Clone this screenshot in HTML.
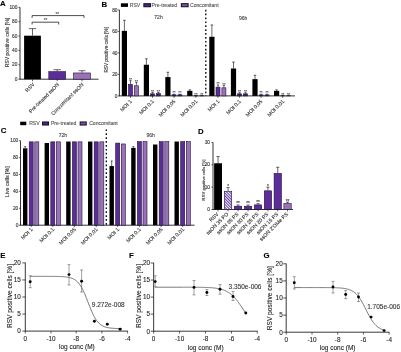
<!DOCTYPE html>
<html><head><meta charset="utf-8"><style>
html,body{margin:0;padding:0;background:#fff;width:401px;height:352px;overflow:hidden}
svg{display:block;font-family:"Liberation Sans", sans-serif;will-change:transform}
text{paint-order:stroke}
</style></head><body>
<svg width="401" height="352" viewBox="0 0 401 352">
<rect width="401" height="352" fill="#fff"/>
<text x="0.00" y="6.40" font-size="7.8" text-anchor="start" font-weight="bold" fill="#000" stroke="#000" stroke-width="0.1">A</text>
<line x1="20.00" y1="7.30" x2="20.00" y2="79.60" stroke="#000" stroke-width="0.8" />
<line x1="20.00" y1="79.20" x2="98.50" y2="79.20" stroke="#000" stroke-width="0.8" />
<line x1="18.40" y1="79.20" x2="20.00" y2="79.20" stroke="#000" stroke-width="0.6" />
<text x="17.40" y="80.80" font-size="4.8" text-anchor="end" font-weight="normal" fill="#333" stroke="#333" stroke-width="0.12">0</text>
<line x1="18.40" y1="64.82" x2="20.00" y2="64.82" stroke="#000" stroke-width="0.6" />
<text x="17.40" y="66.42" font-size="4.8" text-anchor="end" font-weight="normal" fill="#333" stroke="#333" stroke-width="0.12">20</text>
<line x1="18.40" y1="50.44" x2="20.00" y2="50.44" stroke="#000" stroke-width="0.6" />
<text x="17.40" y="52.04" font-size="4.8" text-anchor="end" font-weight="normal" fill="#333" stroke="#333" stroke-width="0.12">40</text>
<line x1="18.40" y1="36.06" x2="20.00" y2="36.06" stroke="#000" stroke-width="0.6" />
<text x="17.40" y="37.66" font-size="4.8" text-anchor="end" font-weight="normal" fill="#333" stroke="#333" stroke-width="0.12">60</text>
<line x1="18.40" y1="21.68" x2="20.00" y2="21.68" stroke="#000" stroke-width="0.6" />
<text x="17.40" y="23.28" font-size="4.8" text-anchor="end" font-weight="normal" fill="#333" stroke="#333" stroke-width="0.12">80</text>
<line x1="18.40" y1="7.30" x2="20.00" y2="7.30" stroke="#000" stroke-width="0.6" />
<text x="17.40" y="8.90" font-size="4.8" text-anchor="end" font-weight="normal" fill="#333" stroke="#333" stroke-width="0.12">100</text>
<text x="8.60" y="42.60" font-size="5.1" text-anchor="middle" font-weight="normal" fill="#333" stroke="#333" stroke-width="0.12" transform="rotate(-90 8.60 42.60)">RSV positive cells [%]</text>
<line x1="32.50" y1="35.70" x2="32.50" y2="28.65" stroke="#000" stroke-width="0.6" />
<line x1="28.80" y1="28.65" x2="36.20" y2="28.65" stroke="#000" stroke-width="0.6" />
<rect x="24.10" y="35.70" width="16.80" height="43.50" fill="#000"/>
<line x1="32.50" y1="79.20" x2="32.50" y2="81.20" stroke="#000" stroke-width="0.6" />
<line x1="57.20" y1="79.20" x2="57.20" y2="81.20" stroke="#000" stroke-width="0.6" />
<line x1="82.00" y1="79.20" x2="82.00" y2="81.20" stroke="#000" stroke-width="0.6" />
<line x1="57.20" y1="71.36" x2="57.20" y2="69.71" stroke="#000" stroke-width="0.6" />
<line x1="53.40" y1="69.71" x2="61.00" y2="69.71" stroke="#000" stroke-width="0.6" />
<rect x="48.80" y="71.66" width="16.80" height="7.54" fill="#5c2d9a" stroke="#1e1035" stroke-width="0.6"/>
<line x1="82.00" y1="72.66" x2="82.00" y2="70.72" stroke="#000" stroke-width="0.6" />
<line x1="78.50" y1="70.72" x2="85.50" y2="70.72" stroke="#000" stroke-width="0.6" />
<rect x="73.60" y="72.96" width="16.80" height="6.24" fill="#9b72b9" stroke="#1e1035" stroke-width="0.6"/>
<text x="34.90" y="84.90" font-size="5.2" text-anchor="end" font-weight="normal" fill="#333" stroke="#333" stroke-width="0.12" transform="rotate(-45 34.90 84.90)">RSV</text>
<text x="59.50" y="84.90" font-size="5.2" text-anchor="end" font-weight="normal" fill="#333" stroke="#333" stroke-width="0.12" transform="rotate(-45 59.50 84.90)">Pre-treated ssON</text>
<text x="84.00" y="84.90" font-size="5.2" text-anchor="end" font-weight="normal" fill="#333" stroke="#333" stroke-width="0.12" transform="rotate(-45 84.00 84.90)">Concomitant ssON</text>
<path d="M32.1,17.9 V15.6 H84.0 V17.9" fill="none" stroke="#000" stroke-width="0.7"/>
<path d="M32.1,24.5 V22.2 H58.7 V24.5" fill="none" stroke="#000" stroke-width="0.7"/>
<text x="57.30" y="15.50" font-size="4.6" text-anchor="middle" font-weight="normal" fill="#555" stroke="#555" stroke-width="0.12">**</text>
<text x="45.60" y="22.30" font-size="4.6" text-anchor="middle" font-weight="normal" fill="#555" stroke="#555" stroke-width="0.12">**</text>
<text x="101.60" y="6.60" font-size="7.8" text-anchor="start" font-weight="bold" fill="#000" stroke="#000" stroke-width="0.1">B</text>
<line x1="119.40" y1="9.90" x2="119.40" y2="96.30" stroke="#000" stroke-width="0.8" />
<line x1="119.40" y1="95.90" x2="295.00" y2="95.90" stroke="#000" stroke-width="0.8" />
<line x1="117.80" y1="95.90" x2="119.40" y2="95.90" stroke="#000" stroke-width="0.6" />
<text x="117.50" y="97.50" font-size="4.8" text-anchor="end" font-weight="normal" fill="#333" stroke="#333" stroke-width="0.12">0</text>
<line x1="117.80" y1="74.40" x2="119.40" y2="74.40" stroke="#000" stroke-width="0.6" />
<text x="117.50" y="76.00" font-size="4.8" text-anchor="end" font-weight="normal" fill="#333" stroke="#333" stroke-width="0.12">20</text>
<line x1="117.80" y1="52.90" x2="119.40" y2="52.90" stroke="#000" stroke-width="0.6" />
<text x="117.50" y="54.50" font-size="4.8" text-anchor="end" font-weight="normal" fill="#333" stroke="#333" stroke-width="0.12">40</text>
<line x1="117.80" y1="31.40" x2="119.40" y2="31.40" stroke="#000" stroke-width="0.6" />
<text x="117.50" y="33.00" font-size="4.8" text-anchor="end" font-weight="normal" fill="#333" stroke="#333" stroke-width="0.12">60</text>
<line x1="117.80" y1="9.90" x2="119.40" y2="9.90" stroke="#000" stroke-width="0.6" />
<text x="117.50" y="11.50" font-size="4.8" text-anchor="end" font-weight="normal" fill="#333" stroke="#333" stroke-width="0.12">80</text>
<text x="108.50" y="49.80" font-size="4.7" text-anchor="middle" font-weight="normal" fill="#333" stroke="#333" stroke-width="0.12" transform="rotate(-90 108.50 49.80)">RSV positive cells [%]</text>
<rect x="120.90" y="3.30" width="7.10" height="3.60" fill="#000"/>
<text x="129.80" y="6.90" font-size="5.1" text-anchor="start" font-weight="normal" fill="#555" stroke="#555" stroke-width="0.12">RSV</text>
<rect x="143.90" y="3.70" width="6.50" height="3.00" fill="#4a2a80" stroke="#1a1030" stroke-width="1.1"/>
<text x="151.60" y="6.90" font-size="5.1" text-anchor="start" font-weight="normal" fill="#555" stroke="#555" stroke-width="0.12">Pre-treated</text>
<rect x="181.40" y="3.70" width="6.70" height="3.00" fill="#7a5aa0" stroke="#1a1030" stroke-width="1.1"/>
<text x="190.00" y="6.90" font-size="5.1" text-anchor="start" font-weight="normal" fill="#555" stroke="#555" stroke-width="0.12">Concomitant</text>
<text x="158.50" y="19.20" font-size="5.0" text-anchor="middle" font-weight="normal" fill="#444" stroke="#444" stroke-width="0.12">72h</text>
<text x="243.20" y="19.60" font-size="5.0" text-anchor="middle" font-weight="normal" fill="#444" stroke="#444" stroke-width="0.12">96h</text>
<line x1="205.80" y1="9.70" x2="205.80" y2="96.00" stroke="#000" stroke-width="1.3" stroke-dasharray="1.7,2.2"/>
<line x1="124.40" y1="30.86" x2="124.40" y2="20.33" stroke="#000" stroke-width="0.6" />
<line x1="123.10" y1="20.33" x2="125.70" y2="20.33" stroke="#000" stroke-width="0.6" />
<rect x="121.80" y="30.86" width="5.20" height="65.04" fill="#000"/>
<line x1="130.50" y1="84.08" x2="130.50" y2="80.64" stroke="#000" stroke-width="0.6" />
<line x1="129.40" y1="80.64" x2="131.60" y2="80.64" stroke="#000" stroke-width="0.6" />
<rect x="128.50" y="84.38" width="4.00" height="11.53" fill="#5c2d9a" stroke="#1e1035" stroke-width="0.6"/>
<line x1="136.40" y1="85.47" x2="136.40" y2="82.36" stroke="#000" stroke-width="0.6" />
<line x1="135.30" y1="82.36" x2="137.50" y2="82.36" stroke="#000" stroke-width="0.6" />
<rect x="134.40" y="85.77" width="4.00" height="10.13" fill="#9b72b9" stroke="#1e1035" stroke-width="0.6"/>
<line x1="130.50" y1="95.90" x2="130.50" y2="97.80" stroke="#000" stroke-width="0.6" />
<text x="130.50" y="80.94" font-size="4.0" text-anchor="middle" font-weight="normal" fill="#333" stroke="#333" stroke-width="0.12">**</text>
<text x="136.40" y="82.66" font-size="4.0" text-anchor="middle" font-weight="normal" fill="#333" stroke="#333" stroke-width="0.12">**</text>
<line x1="146.40" y1="64.73" x2="146.40" y2="58.81" stroke="#000" stroke-width="0.6" />
<line x1="145.10" y1="58.81" x2="147.70" y2="58.81" stroke="#000" stroke-width="0.6" />
<rect x="143.80" y="64.73" width="5.20" height="31.17" fill="#000"/>
<line x1="152.50" y1="93.54" x2="152.50" y2="92.46" stroke="#000" stroke-width="0.6" />
<line x1="151.40" y1="92.46" x2="153.60" y2="92.46" stroke="#000" stroke-width="0.6" />
<rect x="150.50" y="93.84" width="4.00" height="2.06" fill="#3b2168" stroke="#1e1035" stroke-width="0.6"/>
<line x1="158.40" y1="93.32" x2="158.40" y2="92.46" stroke="#000" stroke-width="0.6" />
<line x1="157.30" y1="92.46" x2="159.50" y2="92.46" stroke="#000" stroke-width="0.6" />
<rect x="156.40" y="93.62" width="4.00" height="2.28" fill="#3b2168" stroke="#1e1035" stroke-width="0.6"/>
<line x1="152.50" y1="95.90" x2="152.50" y2="97.80" stroke="#000" stroke-width="0.6" />
<text x="152.50" y="92.76" font-size="4.0" text-anchor="middle" font-weight="normal" fill="#333" stroke="#333" stroke-width="0.12">**</text>
<text x="158.40" y="92.76" font-size="4.0" text-anchor="middle" font-weight="normal" fill="#333" stroke="#333" stroke-width="0.12">**</text>
<line x1="167.90" y1="77.09" x2="167.90" y2="72.25" stroke="#000" stroke-width="0.6" />
<line x1="166.60" y1="72.25" x2="169.20" y2="72.25" stroke="#000" stroke-width="0.6" />
<rect x="165.30" y="77.09" width="5.20" height="18.81" fill="#000"/>
<line x1="174.00" y1="94.50" x2="174.00" y2="94.18" stroke="#000" stroke-width="0.6" />
<line x1="172.90" y1="94.18" x2="175.10" y2="94.18" stroke="#000" stroke-width="0.6" />
<rect x="172.00" y="94.80" width="4.00" height="1.10" fill="#3b2168" stroke="#1e1035" stroke-width="0.6"/>
<line x1="179.90" y1="94.50" x2="179.90" y2="94.18" stroke="#000" stroke-width="0.6" />
<line x1="178.80" y1="94.18" x2="181.00" y2="94.18" stroke="#000" stroke-width="0.6" />
<rect x="177.90" y="94.80" width="4.00" height="1.10" fill="#3b2168" stroke="#1e1035" stroke-width="0.6"/>
<line x1="174.00" y1="95.90" x2="174.00" y2="97.80" stroke="#000" stroke-width="0.6" />
<text x="174.00" y="94.48" font-size="4.0" text-anchor="middle" font-weight="normal" fill="#333" stroke="#333" stroke-width="0.12">**</text>
<text x="179.90" y="94.48" font-size="4.0" text-anchor="middle" font-weight="normal" fill="#333" stroke="#333" stroke-width="0.12">**</text>
<line x1="189.80" y1="90.85" x2="189.80" y2="89.88" stroke="#000" stroke-width="0.6" />
<line x1="188.50" y1="89.88" x2="191.10" y2="89.88" stroke="#000" stroke-width="0.6" />
<rect x="187.20" y="90.85" width="5.20" height="5.05" fill="#000"/>
<line x1="195.90" y1="95.47" x2="195.90" y2="95.36" stroke="#000" stroke-width="0.6" />
<line x1="194.80" y1="95.36" x2="197.00" y2="95.36" stroke="#000" stroke-width="0.6" />
<rect x="193.90" y="95.77" width="4.00" height="0.13" fill="#3b2168" stroke="#1e1035" stroke-width="0.6"/>
<line x1="201.80" y1="95.47" x2="201.80" y2="95.36" stroke="#000" stroke-width="0.6" />
<line x1="200.70" y1="95.36" x2="202.90" y2="95.36" stroke="#000" stroke-width="0.6" />
<rect x="199.80" y="95.77" width="4.00" height="0.13" fill="#3b2168" stroke="#1e1035" stroke-width="0.6"/>
<line x1="195.90" y1="95.90" x2="195.90" y2="97.80" stroke="#000" stroke-width="0.6" />
<text x="195.90" y="95.66" font-size="4.0" text-anchor="middle" font-weight="normal" fill="#333" stroke="#333" stroke-width="0.12">**</text>
<text x="201.80" y="95.66" font-size="4.0" text-anchor="middle" font-weight="normal" fill="#333" stroke="#333" stroke-width="0.12">**</text>
<line x1="211.90" y1="36.78" x2="211.90" y2="24.95" stroke="#000" stroke-width="0.6" />
<line x1="210.60" y1="24.95" x2="213.20" y2="24.95" stroke="#000" stroke-width="0.6" />
<rect x="209.30" y="36.78" width="5.20" height="59.12" fill="#000"/>
<line x1="218.00" y1="86.87" x2="218.00" y2="84.94" stroke="#000" stroke-width="0.6" />
<line x1="216.90" y1="84.94" x2="219.10" y2="84.94" stroke="#000" stroke-width="0.6" />
<rect x="216.00" y="87.17" width="4.00" height="8.73" fill="#5c2d9a" stroke="#1e1035" stroke-width="0.6"/>
<line x1="223.90" y1="87.52" x2="223.90" y2="85.37" stroke="#000" stroke-width="0.6" />
<line x1="222.80" y1="85.37" x2="225.00" y2="85.37" stroke="#000" stroke-width="0.6" />
<rect x="221.90" y="87.81" width="4.00" height="8.09" fill="#9b72b9" stroke="#1e1035" stroke-width="0.6"/>
<line x1="218.00" y1="95.90" x2="218.00" y2="97.80" stroke="#000" stroke-width="0.6" />
<text x="218.00" y="85.23" font-size="4.0" text-anchor="middle" font-weight="normal" fill="#333" stroke="#333" stroke-width="0.12">**</text>
<text x="223.90" y="85.67" font-size="4.0" text-anchor="middle" font-weight="normal" fill="#333" stroke="#333" stroke-width="0.12">**</text>
<line x1="233.50" y1="68.49" x2="233.50" y2="62.04" stroke="#000" stroke-width="0.6" />
<line x1="232.20" y1="62.04" x2="234.80" y2="62.04" stroke="#000" stroke-width="0.6" />
<rect x="230.90" y="68.49" width="5.20" height="27.41" fill="#000"/>
<line x1="239.60" y1="93.54" x2="239.60" y2="92.68" stroke="#000" stroke-width="0.6" />
<line x1="238.50" y1="92.68" x2="240.70" y2="92.68" stroke="#000" stroke-width="0.6" />
<rect x="237.60" y="93.84" width="4.00" height="2.06" fill="#3b2168" stroke="#1e1035" stroke-width="0.6"/>
<line x1="245.50" y1="93.54" x2="245.50" y2="92.68" stroke="#000" stroke-width="0.6" />
<line x1="244.40" y1="92.68" x2="246.60" y2="92.68" stroke="#000" stroke-width="0.6" />
<rect x="243.50" y="93.84" width="4.00" height="2.06" fill="#3b2168" stroke="#1e1035" stroke-width="0.6"/>
<line x1="239.60" y1="95.90" x2="239.60" y2="97.80" stroke="#000" stroke-width="0.6" />
<text x="239.60" y="92.98" font-size="4.0" text-anchor="middle" font-weight="normal" fill="#333" stroke="#333" stroke-width="0.12">**</text>
<text x="245.50" y="92.98" font-size="4.0" text-anchor="middle" font-weight="normal" fill="#333" stroke="#333" stroke-width="0.12">**</text>
<line x1="255.00" y1="79.13" x2="255.00" y2="75.26" stroke="#000" stroke-width="0.6" />
<line x1="253.70" y1="75.26" x2="256.30" y2="75.26" stroke="#000" stroke-width="0.6" />
<rect x="252.40" y="79.13" width="5.20" height="16.77" fill="#000"/>
<line x1="261.10" y1="94.61" x2="261.10" y2="94.18" stroke="#000" stroke-width="0.6" />
<line x1="260.00" y1="94.18" x2="262.20" y2="94.18" stroke="#000" stroke-width="0.6" />
<rect x="259.10" y="94.91" width="4.00" height="0.99" fill="#3b2168" stroke="#1e1035" stroke-width="0.6"/>
<line x1="267.00" y1="94.61" x2="267.00" y2="94.18" stroke="#000" stroke-width="0.6" />
<line x1="265.90" y1="94.18" x2="268.10" y2="94.18" stroke="#000" stroke-width="0.6" />
<rect x="265.00" y="94.91" width="4.00" height="0.99" fill="#3b2168" stroke="#1e1035" stroke-width="0.6"/>
<line x1="261.10" y1="95.90" x2="261.10" y2="97.80" stroke="#000" stroke-width="0.6" />
<text x="261.10" y="94.48" font-size="4.0" text-anchor="middle" font-weight="normal" fill="#333" stroke="#333" stroke-width="0.12">**</text>
<text x="267.00" y="94.48" font-size="4.0" text-anchor="middle" font-weight="normal" fill="#333" stroke="#333" stroke-width="0.12">**</text>
<line x1="276.60" y1="90.85" x2="276.60" y2="89.88" stroke="#000" stroke-width="0.6" />
<line x1="275.30" y1="89.88" x2="277.90" y2="89.88" stroke="#000" stroke-width="0.6" />
<rect x="274.00" y="90.85" width="5.20" height="5.05" fill="#000"/>
<line x1="282.70" y1="95.47" x2="282.70" y2="95.36" stroke="#000" stroke-width="0.6" />
<line x1="281.60" y1="95.36" x2="283.80" y2="95.36" stroke="#000" stroke-width="0.6" />
<rect x="280.70" y="95.77" width="4.00" height="0.13" fill="#3b2168" stroke="#1e1035" stroke-width="0.6"/>
<line x1="288.60" y1="95.47" x2="288.60" y2="95.36" stroke="#000" stroke-width="0.6" />
<line x1="287.50" y1="95.36" x2="289.70" y2="95.36" stroke="#000" stroke-width="0.6" />
<rect x="286.60" y="95.77" width="4.00" height="0.13" fill="#3b2168" stroke="#1e1035" stroke-width="0.6"/>
<line x1="282.70" y1="95.90" x2="282.70" y2="97.80" stroke="#000" stroke-width="0.6" />
<text x="282.70" y="95.66" font-size="4.0" text-anchor="middle" font-weight="normal" fill="#333" stroke="#333" stroke-width="0.12">**</text>
<text x="288.60" y="95.66" font-size="4.0" text-anchor="middle" font-weight="normal" fill="#333" stroke="#333" stroke-width="0.12">**</text>
<text x="132.30" y="101.80" font-size="5.2" text-anchor="end" font-weight="normal" fill="#333" stroke="#333" stroke-width="0.12" transform="rotate(-45 132.30 101.80)">MOI 1</text>
<text x="154.30" y="101.80" font-size="5.2" text-anchor="end" font-weight="normal" fill="#333" stroke="#333" stroke-width="0.12" transform="rotate(-45 154.30 101.80)">MOI 0.1</text>
<text x="175.80" y="101.80" font-size="5.2" text-anchor="end" font-weight="normal" fill="#333" stroke="#333" stroke-width="0.12" transform="rotate(-45 175.80 101.80)">MOI 0.05</text>
<text x="197.70" y="101.80" font-size="5.2" text-anchor="end" font-weight="normal" fill="#333" stroke="#333" stroke-width="0.12" transform="rotate(-45 197.70 101.80)">MOI 0.01</text>
<text x="219.80" y="101.80" font-size="5.2" text-anchor="end" font-weight="normal" fill="#333" stroke="#333" stroke-width="0.12" transform="rotate(-45 219.80 101.80)">MOI 1</text>
<text x="241.40" y="101.80" font-size="5.2" text-anchor="end" font-weight="normal" fill="#333" stroke="#333" stroke-width="0.12" transform="rotate(-45 241.40 101.80)">MOI 0.1</text>
<text x="262.90" y="101.80" font-size="5.2" text-anchor="end" font-weight="normal" fill="#333" stroke="#333" stroke-width="0.12" transform="rotate(-45 262.90 101.80)">MOI 0.05</text>
<text x="284.50" y="101.80" font-size="5.2" text-anchor="end" font-weight="normal" fill="#333" stroke="#333" stroke-width="0.12" transform="rotate(-45 284.50 101.80)">MOI 0.01</text>
<text x="0.80" y="133.20" font-size="7.8" text-anchor="start" font-weight="bold" fill="#000" stroke="#000" stroke-width="0.1">C</text>
<line x1="20.50" y1="140.70" x2="20.50" y2="225.60" stroke="#000" stroke-width="0.8" />
<line x1="20.50" y1="225.20" x2="194.50" y2="225.20" stroke="#000" stroke-width="0.8" />
<line x1="18.90" y1="225.20" x2="20.50" y2="225.20" stroke="#000" stroke-width="0.6" />
<text x="18.30" y="226.70" font-size="4.8" text-anchor="end" font-weight="normal" fill="#333" stroke="#333" stroke-width="0.12">0</text>
<line x1="18.90" y1="208.30" x2="20.50" y2="208.30" stroke="#000" stroke-width="0.6" />
<text x="18.30" y="209.80" font-size="4.8" text-anchor="end" font-weight="normal" fill="#333" stroke="#333" stroke-width="0.12">20</text>
<line x1="18.90" y1="191.40" x2="20.50" y2="191.40" stroke="#000" stroke-width="0.6" />
<text x="18.30" y="192.90" font-size="4.8" text-anchor="end" font-weight="normal" fill="#333" stroke="#333" stroke-width="0.12">40</text>
<line x1="18.90" y1="174.50" x2="20.50" y2="174.50" stroke="#000" stroke-width="0.6" />
<text x="18.30" y="176.00" font-size="4.8" text-anchor="end" font-weight="normal" fill="#333" stroke="#333" stroke-width="0.12">60</text>
<line x1="18.90" y1="157.60" x2="20.50" y2="157.60" stroke="#000" stroke-width="0.6" />
<text x="18.30" y="159.10" font-size="4.8" text-anchor="end" font-weight="normal" fill="#333" stroke="#333" stroke-width="0.12">80</text>
<line x1="18.90" y1="140.70" x2="20.50" y2="140.70" stroke="#000" stroke-width="0.6" />
<text x="18.30" y="142.20" font-size="4.8" text-anchor="end" font-weight="normal" fill="#333" stroke="#333" stroke-width="0.12">100</text>
<text x="8.90" y="181.80" font-size="5.3" text-anchor="middle" font-weight="normal" fill="#333" stroke="#333" stroke-width="0.12" transform="rotate(-90 8.90 181.80)">Live cells [%]</text>
<rect x="20.20" y="121.70" width="6.10" height="3.50" fill="#000"/>
<text x="29.20" y="125.30" font-size="5.1" text-anchor="start" font-weight="normal" fill="#555" stroke="#555" stroke-width="0.12">RSV</text>
<rect x="42.60" y="122.00" width="5.90" height="3.00" fill="#4a2a80" stroke="#1a1030" stroke-width="1.1"/>
<text x="50.90" y="125.30" font-size="5.1" text-anchor="start" font-weight="normal" fill="#555" stroke="#555" stroke-width="0.12">Pre-treated</text>
<rect x="80.20" y="122.00" width="6.00" height="3.00" fill="#7a5aa0" stroke="#1a1030" stroke-width="1.1"/>
<text x="89.20" y="125.30" font-size="5.1" text-anchor="start" font-weight="normal" fill="#555" stroke="#555" stroke-width="0.12">Concomitant</text>
<text x="62.80" y="136.60" font-size="5.0" text-anchor="middle" font-weight="normal" fill="#444" stroke="#444" stroke-width="0.12">72h</text>
<text x="150.70" y="136.90" font-size="5.0" text-anchor="middle" font-weight="normal" fill="#444" stroke="#444" stroke-width="0.12">96h</text>
<line x1="106.30" y1="129.40" x2="106.30" y2="225.00" stroke="#000" stroke-width="1.3" stroke-dasharray="1.7,2.2"/>
<line x1="25.20" y1="148.31" x2="25.20" y2="146.62" stroke="#000" stroke-width="0.6" />
<line x1="24.20" y1="146.62" x2="26.20" y2="146.62" stroke="#000" stroke-width="0.6" />
<rect x="23.00" y="148.31" width="4.40" height="76.89" fill="#000"/>
<rect x="29.20" y="141.84" width="4.00" height="83.36" fill="#5c2d9a" stroke="#1e1035" stroke-width="0.6"/>
<rect x="34.80" y="141.84" width="4.00" height="83.36" fill="#9b72b9" stroke="#1e1035" stroke-width="0.6"/>
<line x1="31.20" y1="225.20" x2="31.20" y2="227.10" stroke="#000" stroke-width="0.6" />
<rect x="44.60" y="142.98" width="4.40" height="82.22" fill="#000"/>
<rect x="50.80" y="141.84" width="4.00" height="83.36" fill="#5c2d9a" stroke="#1e1035" stroke-width="0.6"/>
<rect x="56.40" y="141.84" width="4.00" height="83.36" fill="#9b72b9" stroke="#1e1035" stroke-width="0.6"/>
<line x1="52.80" y1="225.20" x2="52.80" y2="227.10" stroke="#000" stroke-width="0.6" />
<rect x="66.20" y="141.54" width="4.40" height="83.66" fill="#000"/>
<rect x="72.40" y="141.84" width="4.00" height="83.36" fill="#5c2d9a" stroke="#1e1035" stroke-width="0.6"/>
<rect x="78.00" y="141.84" width="4.00" height="83.36" fill="#9b72b9" stroke="#1e1035" stroke-width="0.6"/>
<line x1="74.40" y1="225.20" x2="74.40" y2="227.10" stroke="#000" stroke-width="0.6" />
<rect x="88.00" y="141.54" width="4.40" height="83.66" fill="#000"/>
<rect x="94.20" y="141.84" width="4.00" height="83.36" fill="#5c2d9a" stroke="#1e1035" stroke-width="0.6"/>
<rect x="99.80" y="141.84" width="4.00" height="83.36" fill="#9b72b9" stroke="#1e1035" stroke-width="0.6"/>
<line x1="96.20" y1="225.20" x2="96.20" y2="227.10" stroke="#000" stroke-width="0.6" />
<line x1="111.70" y1="166.05" x2="111.70" y2="160.98" stroke="#000" stroke-width="0.6" />
<line x1="110.70" y1="160.98" x2="112.70" y2="160.98" stroke="#000" stroke-width="0.6" />
<rect x="109.50" y="166.05" width="4.40" height="59.15" fill="#000"/>
<rect x="115.70" y="143.11" width="4.00" height="82.09" fill="#5c2d9a" stroke="#1e1035" stroke-width="0.6"/>
<rect x="121.30" y="143.96" width="4.00" height="81.24" fill="#9b72b9" stroke="#1e1035" stroke-width="0.6"/>
<line x1="117.70" y1="225.20" x2="117.70" y2="227.10" stroke="#000" stroke-width="0.6" />
<line x1="133.40" y1="147.88" x2="133.40" y2="146.62" stroke="#000" stroke-width="0.6" />
<line x1="132.40" y1="146.62" x2="134.40" y2="146.62" stroke="#000" stroke-width="0.6" />
<rect x="131.20" y="147.88" width="4.40" height="77.32" fill="#000"/>
<rect x="137.40" y="141.68" width="4.00" height="83.52" fill="#5c2d9a" stroke="#1e1035" stroke-width="0.6"/>
<rect x="143.00" y="141.68" width="4.00" height="83.52" fill="#9b72b9" stroke="#1e1035" stroke-width="0.6"/>
<line x1="139.40" y1="225.20" x2="139.40" y2="227.10" stroke="#000" stroke-width="0.6" />
<rect x="153.00" y="144.50" width="4.40" height="80.70" fill="#000"/>
<rect x="159.20" y="141.68" width="4.00" height="83.52" fill="#5c2d9a" stroke="#1e1035" stroke-width="0.6"/>
<rect x="164.80" y="141.68" width="4.00" height="83.52" fill="#9b72b9" stroke="#1e1035" stroke-width="0.6"/>
<line x1="161.20" y1="225.20" x2="161.20" y2="227.10" stroke="#000" stroke-width="0.6" />
<rect x="174.50" y="141.54" width="4.40" height="83.66" fill="#000"/>
<rect x="180.70" y="141.68" width="4.00" height="83.52" fill="#5c2d9a" stroke="#1e1035" stroke-width="0.6"/>
<rect x="186.30" y="141.68" width="4.00" height="83.52" fill="#9b72b9" stroke="#1e1035" stroke-width="0.6"/>
<line x1="182.70" y1="225.20" x2="182.70" y2="227.10" stroke="#000" stroke-width="0.6" />
<text x="33.00" y="229.80" font-size="5.2" text-anchor="end" font-weight="normal" fill="#333" stroke="#333" stroke-width="0.12" transform="rotate(-45 33.00 229.80)">MOI 1</text>
<text x="54.60" y="229.80" font-size="5.2" text-anchor="end" font-weight="normal" fill="#333" stroke="#333" stroke-width="0.12" transform="rotate(-45 54.60 229.80)">MOI 0.1</text>
<text x="76.20" y="229.80" font-size="5.2" text-anchor="end" font-weight="normal" fill="#333" stroke="#333" stroke-width="0.12" transform="rotate(-45 76.20 229.80)">MOI 0.05</text>
<text x="98.00" y="229.80" font-size="5.2" text-anchor="end" font-weight="normal" fill="#333" stroke="#333" stroke-width="0.12" transform="rotate(-45 98.00 229.80)">MOI 0.01</text>
<text x="119.50" y="229.80" font-size="5.2" text-anchor="end" font-weight="normal" fill="#333" stroke="#333" stroke-width="0.12" transform="rotate(-45 119.50 229.80)">MOI 1</text>
<text x="141.20" y="229.80" font-size="5.2" text-anchor="end" font-weight="normal" fill="#333" stroke="#333" stroke-width="0.12" transform="rotate(-45 141.20 229.80)">MOI 0.1</text>
<text x="163.00" y="229.80" font-size="5.2" text-anchor="end" font-weight="normal" fill="#333" stroke="#333" stroke-width="0.12" transform="rotate(-45 163.00 229.80)">MOI 0.05</text>
<text x="184.50" y="229.80" font-size="5.2" text-anchor="end" font-weight="normal" fill="#333" stroke="#333" stroke-width="0.12" transform="rotate(-45 184.50 229.80)">MOI 0.01</text>
<text x="198.00" y="133.80" font-size="7.8" text-anchor="start" font-weight="bold" fill="#000" stroke="#000" stroke-width="0.1">D</text>
<line x1="213.00" y1="142.50" x2="213.00" y2="209.90" stroke="#000" stroke-width="0.8" />
<line x1="213.00" y1="209.50" x2="293.00" y2="209.50" stroke="#000" stroke-width="0.8" />
<line x1="211.40" y1="209.50" x2="213.00" y2="209.50" stroke="#000" stroke-width="0.6" />
<text x="210.00" y="211.10" font-size="4.8" text-anchor="end" font-weight="normal" fill="#333" stroke="#333" stroke-width="0.12">0</text>
<line x1="211.40" y1="187.17" x2="213.00" y2="187.17" stroke="#000" stroke-width="0.6" />
<text x="210.00" y="188.77" font-size="4.8" text-anchor="end" font-weight="normal" fill="#333" stroke="#333" stroke-width="0.12">10</text>
<line x1="211.40" y1="164.83" x2="213.00" y2="164.83" stroke="#000" stroke-width="0.6" />
<text x="210.00" y="166.43" font-size="4.8" text-anchor="end" font-weight="normal" fill="#333" stroke="#333" stroke-width="0.12">20</text>
<line x1="211.40" y1="142.50" x2="213.00" y2="142.50" stroke="#000" stroke-width="0.6" />
<text x="210.00" y="144.10" font-size="4.8" text-anchor="end" font-weight="normal" fill="#333" stroke="#333" stroke-width="0.12">30</text>
<text x="204.60" y="180.00" font-size="4.2" text-anchor="middle" font-weight="normal" fill="#333" stroke="#333" stroke-width="0.12" transform="rotate(-90 204.60 180.00)">RSV positive cells [%]</text>
<defs><pattern id="hatch" patternUnits="userSpaceOnUse" width="2.0" height="2.0" patternTransform="rotate(-45)"><rect width="2.0" height="2.0" fill="#f4eefa"/><rect width="1.0" height="2.0" fill="#6a44a8"/></pattern></defs>
<line x1="218.05" y1="163.27" x2="218.05" y2="156.57" stroke="#000" stroke-width="0.6" />
<line x1="216.45" y1="156.57" x2="219.65" y2="156.57" stroke="#000" stroke-width="0.6" />
<rect x="214.10" y="163.27" width="7.90" height="46.23" fill="#000"/>
<line x1="218.05" y1="209.50" x2="218.05" y2="211.40" stroke="#000" stroke-width="0.6" />
<text x="218.90" y="214.50" font-size="5.2" text-anchor="end" font-weight="normal" fill="#333" stroke="#333" stroke-width="0.12" transform="rotate(-45 218.90 214.50)">RSV</text>
<line x1="228.05" y1="190.96" x2="228.05" y2="187.61" stroke="#000" stroke-width="0.6" />
<line x1="226.45" y1="187.61" x2="229.65" y2="187.61" stroke="#000" stroke-width="0.6" />
<rect x="224.40" y="191.26" width="7.30" height="18.24" fill="url(#hatch)" stroke="#1e1035" stroke-width="0.6"/>
<line x1="228.05" y1="209.50" x2="228.05" y2="211.40" stroke="#000" stroke-width="0.6" />
<text x="228.05" y="188.01" font-size="4.6" text-anchor="middle" font-weight="normal" fill="#333" stroke="#333" stroke-width="0.12">*</text>
<text x="228.90" y="214.50" font-size="5.2" text-anchor="end" font-weight="normal" fill="#333" stroke="#333" stroke-width="0.12" transform="rotate(-45 228.90 214.50)">ssON 35 PO</text>
<line x1="238.05" y1="205.93" x2="238.05" y2="205.03" stroke="#000" stroke-width="0.6" />
<line x1="236.45" y1="205.03" x2="239.65" y2="205.03" stroke="#000" stroke-width="0.6" />
<rect x="234.40" y="206.23" width="7.30" height="3.27" fill="#5c2d9a" stroke="#1e1035" stroke-width="0.6"/>
<line x1="238.05" y1="209.50" x2="238.05" y2="211.40" stroke="#000" stroke-width="0.6" />
<text x="238.05" y="205.43" font-size="4.6" text-anchor="middle" font-weight="normal" fill="#333" stroke="#333" stroke-width="0.12">**</text>
<text x="238.90" y="214.50" font-size="5.2" text-anchor="end" font-weight="normal" fill="#333" stroke="#333" stroke-width="0.12" transform="rotate(-45 238.90 214.50)">ssON 35 PS</text>
<line x1="248.05" y1="205.93" x2="248.05" y2="205.03" stroke="#000" stroke-width="0.6" />
<line x1="246.45" y1="205.03" x2="249.65" y2="205.03" stroke="#000" stroke-width="0.6" />
<rect x="244.40" y="206.23" width="7.30" height="3.27" fill="#5c2d9a" stroke="#1e1035" stroke-width="0.6"/>
<line x1="248.05" y1="209.50" x2="248.05" y2="211.40" stroke="#000" stroke-width="0.6" />
<text x="248.05" y="205.43" font-size="4.6" text-anchor="middle" font-weight="normal" fill="#333" stroke="#333" stroke-width="0.12">**</text>
<text x="248.90" y="214.50" font-size="5.2" text-anchor="end" font-weight="normal" fill="#333" stroke="#333" stroke-width="0.12" transform="rotate(-45 248.90 214.50)">ssON 30 PS</text>
<line x1="258.05" y1="204.59" x2="258.05" y2="203.69" stroke="#000" stroke-width="0.6" />
<line x1="256.45" y1="203.69" x2="259.65" y2="203.69" stroke="#000" stroke-width="0.6" />
<rect x="254.40" y="204.89" width="7.30" height="4.61" fill="#5c2d9a" stroke="#1e1035" stroke-width="0.6"/>
<line x1="258.05" y1="209.50" x2="258.05" y2="211.40" stroke="#000" stroke-width="0.6" />
<text x="258.05" y="204.09" font-size="4.6" text-anchor="middle" font-weight="normal" fill="#333" stroke="#333" stroke-width="0.12">**</text>
<text x="258.90" y="214.50" font-size="5.2" text-anchor="end" font-weight="normal" fill="#333" stroke="#333" stroke-width="0.12" transform="rotate(-45 258.90 214.50)">ssON 25 PS</text>
<line x1="267.95" y1="190.52" x2="267.95" y2="187.17" stroke="#000" stroke-width="0.6" />
<line x1="266.35" y1="187.17" x2="269.55" y2="187.17" stroke="#000" stroke-width="0.6" />
<rect x="264.30" y="190.82" width="7.30" height="18.68" fill="#5c2d9a" stroke="#1e1035" stroke-width="0.6"/>
<line x1="267.95" y1="209.50" x2="267.95" y2="211.40" stroke="#000" stroke-width="0.6" />
<text x="267.95" y="187.57" font-size="4.6" text-anchor="middle" font-weight="normal" fill="#333" stroke="#333" stroke-width="0.12">*</text>
<text x="268.80" y="214.50" font-size="5.2" text-anchor="end" font-weight="normal" fill="#333" stroke="#333" stroke-width="0.12" transform="rotate(-45 268.80 214.50)">ssON 20 PS</text>
<line x1="277.75" y1="173.10" x2="277.75" y2="167.29" stroke="#000" stroke-width="0.6" />
<line x1="276.15" y1="167.29" x2="279.35" y2="167.29" stroke="#000" stroke-width="0.6" />
<rect x="274.10" y="173.40" width="7.30" height="36.10" fill="#5c2d9a" stroke="#1e1035" stroke-width="0.6"/>
<line x1="277.75" y1="209.50" x2="277.75" y2="211.40" stroke="#000" stroke-width="0.6" />
<text x="278.60" y="214.50" font-size="5.2" text-anchor="end" font-weight="normal" fill="#333" stroke="#333" stroke-width="0.12" transform="rotate(-45 278.60 214.50)">ssON 15 PS</text>
<line x1="287.55" y1="203.25" x2="287.55" y2="202.13" stroke="#000" stroke-width="0.6" />
<line x1="285.95" y1="202.13" x2="289.15" y2="202.13" stroke="#000" stroke-width="0.6" />
<rect x="283.90" y="203.55" width="7.30" height="5.95" fill="#9b72b9" stroke="#1e1035" stroke-width="0.6"/>
<line x1="287.55" y1="209.50" x2="287.55" y2="211.40" stroke="#000" stroke-width="0.6" />
<text x="287.55" y="202.53" font-size="4.6" text-anchor="middle" font-weight="normal" fill="#333" stroke="#333" stroke-width="0.12">**</text>
<text x="288.40" y="214.50" font-size="5.2" text-anchor="end" font-weight="normal" fill="#333" stroke="#333" stroke-width="0.12" transform="rotate(-45 288.40 214.50)">ssON 2'OMe PS</text>
<text x="0.20" y="258.20" font-size="7.8" text-anchor="start" font-weight="bold" fill="#000" stroke="#000" stroke-width="0.1">E</text>
<line x1="25.30" y1="262.60" x2="25.30" y2="331.50" stroke="#222" stroke-width="0.9" />
<line x1="25.30" y1="331.10" x2="127.90" y2="331.10" stroke="#222" stroke-width="0.9" />
<line x1="22.30" y1="331.10" x2="25.30" y2="331.10" stroke="#222" stroke-width="0.75" />
<text x="20.90" y="333.40" font-size="6.4" text-anchor="end" font-weight="normal" fill="#222" stroke="#222" stroke-width="0.1">0</text>
<line x1="22.30" y1="314.05" x2="25.30" y2="314.05" stroke="#222" stroke-width="0.75" />
<text x="20.90" y="316.35" font-size="6.4" text-anchor="end" font-weight="normal" fill="#222" stroke="#222" stroke-width="0.1">5</text>
<line x1="22.30" y1="297.00" x2="25.30" y2="297.00" stroke="#222" stroke-width="0.75" />
<text x="20.90" y="299.30" font-size="6.4" text-anchor="end" font-weight="normal" fill="#222" stroke="#222" stroke-width="0.1">10</text>
<line x1="22.30" y1="279.95" x2="25.30" y2="279.95" stroke="#222" stroke-width="0.75" />
<text x="20.90" y="282.25" font-size="6.4" text-anchor="end" font-weight="normal" fill="#222" stroke="#222" stroke-width="0.1">15</text>
<line x1="22.30" y1="262.90" x2="25.30" y2="262.90" stroke="#222" stroke-width="0.75" />
<text x="20.90" y="265.20" font-size="6.4" text-anchor="end" font-weight="normal" fill="#222" stroke="#222" stroke-width="0.1">20</text>
<line x1="25.30" y1="331.10" x2="25.30" y2="333.50" stroke="#222" stroke-width="0.7" />
<text x="25.30" y="341.00" font-size="6.4" text-anchor="middle" font-weight="normal" fill="#222" stroke="#222" stroke-width="0.1">0</text>
<line x1="51.00" y1="331.10" x2="51.00" y2="333.50" stroke="#222" stroke-width="0.7" />
<text x="51.00" y="341.00" font-size="6.4" text-anchor="middle" font-weight="normal" fill="#222" stroke="#222" stroke-width="0.1">-10</text>
<line x1="76.20" y1="331.10" x2="76.20" y2="333.50" stroke="#222" stroke-width="0.7" />
<text x="76.20" y="341.00" font-size="6.4" text-anchor="middle" font-weight="normal" fill="#222" stroke="#222" stroke-width="0.1">-8</text>
<line x1="101.90" y1="331.10" x2="101.90" y2="333.50" stroke="#222" stroke-width="0.7" />
<text x="101.90" y="341.00" font-size="6.4" text-anchor="middle" font-weight="normal" fill="#222" stroke="#222" stroke-width="0.1">-6</text>
<line x1="127.60" y1="331.10" x2="127.60" y2="333.50" stroke="#222" stroke-width="0.7" />
<text x="127.60" y="341.00" font-size="6.4" text-anchor="middle" font-weight="normal" fill="#222" stroke="#222" stroke-width="0.1">-4</text>
<text x="76.90" y="349.40" font-size="6.5" text-anchor="middle" font-weight="normal" fill="#222" stroke="#222" stroke-width="0.1">log conc (M)</text>
<text x="12.10" y="296.00" font-size="6.6" text-anchor="middle" font-weight="normal" fill="#222" stroke="#222" stroke-width="0.1" transform="rotate(-90 12.10 296.00)">RSV positive cells [%]</text>
<path d="M30.20,276.34 L31.20,276.34 L32.20,276.34 L33.21,276.34 L34.22,276.34 L35.23,276.34 L36.24,276.34 L37.24,276.34 L38.25,276.34 L39.26,276.34 L40.27,276.34 L41.28,276.34 L42.28,276.34 L43.29,276.34 L44.30,276.34 L45.31,276.35 L46.32,276.35 L47.33,276.35 L48.33,276.35 L49.34,276.36 L50.35,276.36 L51.36,276.37 L52.37,276.38 L53.37,276.39 L54.38,276.40 L55.39,276.41 L56.40,276.43 L57.41,276.45 L58.42,276.47 L59.42,276.50 L60.43,276.54 L61.44,276.59 L62.45,276.64 L63.46,276.71 L64.46,276.80 L65.47,276.90 L66.48,277.02 L67.49,277.17 L68.50,277.35 L69.50,277.57 L70.51,277.84 L71.52,278.17 L72.53,278.56 L73.54,279.03 L74.55,279.59 L75.55,280.26 L76.56,281.06 L77.57,282.00 L78.58,283.10 L79.59,284.37 L80.59,285.84 L81.60,287.51 L82.61,289.38 L83.62,291.44 L84.63,293.69 L85.64,296.10 L86.64,298.63 L87.65,301.24 L88.66,303.87 L89.67,306.47 L90.68,308.99 L91.68,311.39 L92.69,313.64 L93.70,315.70 L94.71,317.56 L95.72,319.21 L96.72,320.67 L97.73,321.94 L98.74,323.03 L99.75,323.96 L100.76,324.75 L101.77,325.42 L102.77,325.98 L103.78,326.44 L104.79,326.83 L105.80,327.15 L106.81,327.42 L107.81,327.64 L108.82,327.82 L109.83,327.97 L110.84,328.09 L111.85,328.19 L112.86,328.27 L113.86,328.34 L114.87,328.39 L115.88,328.44 L116.89,328.48 L117.90,328.51 L118.90,328.53 L119.91,328.55 L120.92,328.57 L121.93,328.58" fill="none" stroke="#333" stroke-width="0.65"/>
<line x1="30.20" y1="275.80" x2="30.20" y2="287.70" stroke="#555" stroke-width="0.55" />
<line x1="28.70" y1="275.80" x2="31.70" y2="275.80" stroke="#555" stroke-width="0.55" />
<line x1="28.70" y1="287.70" x2="31.70" y2="287.70" stroke="#555" stroke-width="0.55" />
<circle cx="30.20" cy="281.80" r="1.45" fill="#000"/>
<line x1="69.00" y1="264.60" x2="69.00" y2="285.00" stroke="#555" stroke-width="0.55" />
<line x1="67.50" y1="264.60" x2="70.50" y2="264.60" stroke="#555" stroke-width="0.55" />
<line x1="67.50" y1="285.00" x2="70.50" y2="285.00" stroke="#555" stroke-width="0.55" />
<circle cx="69.00" cy="274.60" r="1.45" fill="#000"/>
<line x1="81.60" y1="270.00" x2="81.60" y2="292.00" stroke="#555" stroke-width="0.55" />
<line x1="80.10" y1="270.00" x2="83.10" y2="270.00" stroke="#555" stroke-width="0.55" />
<line x1="80.10" y1="292.00" x2="83.10" y2="292.00" stroke="#555" stroke-width="0.55" />
<circle cx="81.60" cy="281.20" r="1.45" fill="#000"/>
<circle cx="94.40" cy="321.20" r="1.45" fill="#000"/>
<circle cx="107.30" cy="324.30" r="1.45" fill="#000"/>
<circle cx="120.10" cy="329.30" r="1.45" fill="#000"/>
<text x="91.80" y="306.60" font-size="6.5" text-anchor="start" font-weight="normal" fill="#333" stroke="#333" stroke-width="0.1">9.272e-008</text>
<text x="129.00" y="257.80" font-size="7.8" text-anchor="start" font-weight="bold" fill="#000" stroke="#000" stroke-width="0.1">F</text>
<line x1="153.65" y1="262.70" x2="153.65" y2="331.60" stroke="#222" stroke-width="0.9" />
<line x1="153.65" y1="331.20" x2="257.60" y2="331.20" stroke="#222" stroke-width="0.9" />
<line x1="150.65" y1="331.20" x2="153.65" y2="331.20" stroke="#222" stroke-width="0.75" />
<text x="150.15" y="333.50" font-size="6.4" text-anchor="end" font-weight="normal" fill="#222" stroke="#222" stroke-width="0.1">0</text>
<line x1="150.65" y1="314.15" x2="153.65" y2="314.15" stroke="#222" stroke-width="0.75" />
<text x="150.15" y="316.45" font-size="6.4" text-anchor="end" font-weight="normal" fill="#222" stroke="#222" stroke-width="0.1">5</text>
<line x1="150.65" y1="297.10" x2="153.65" y2="297.10" stroke="#222" stroke-width="0.75" />
<text x="150.15" y="299.40" font-size="6.4" text-anchor="end" font-weight="normal" fill="#222" stroke="#222" stroke-width="0.1">10</text>
<line x1="150.65" y1="280.05" x2="153.65" y2="280.05" stroke="#222" stroke-width="0.75" />
<text x="150.15" y="282.35" font-size="6.4" text-anchor="end" font-weight="normal" fill="#222" stroke="#222" stroke-width="0.1">15</text>
<line x1="150.65" y1="263.00" x2="153.65" y2="263.00" stroke="#222" stroke-width="0.75" />
<text x="150.15" y="265.30" font-size="6.4" text-anchor="end" font-weight="normal" fill="#222" stroke="#222" stroke-width="0.1">20</text>
<line x1="153.65" y1="331.20" x2="153.65" y2="333.60" stroke="#222" stroke-width="0.7" />
<text x="153.65" y="341.10" font-size="6.4" text-anchor="middle" font-weight="normal" fill="#222" stroke="#222" stroke-width="0.1">0</text>
<line x1="179.60" y1="331.20" x2="179.60" y2="333.60" stroke="#222" stroke-width="0.7" />
<text x="179.60" y="341.10" font-size="6.4" text-anchor="middle" font-weight="normal" fill="#222" stroke="#222" stroke-width="0.1">-10</text>
<line x1="205.50" y1="331.20" x2="205.50" y2="333.60" stroke="#222" stroke-width="0.7" />
<text x="205.50" y="341.10" font-size="6.4" text-anchor="middle" font-weight="normal" fill="#222" stroke="#222" stroke-width="0.1">-8</text>
<line x1="231.50" y1="331.20" x2="231.50" y2="333.60" stroke="#222" stroke-width="0.7" />
<text x="231.50" y="341.10" font-size="6.4" text-anchor="middle" font-weight="normal" fill="#222" stroke="#222" stroke-width="0.1">-6</text>
<line x1="257.30" y1="331.20" x2="257.30" y2="333.60" stroke="#222" stroke-width="0.7" />
<text x="257.30" y="341.10" font-size="6.4" text-anchor="middle" font-weight="normal" fill="#222" stroke="#222" stroke-width="0.1">-4</text>
<text x="205.70" y="349.50" font-size="6.5" text-anchor="middle" font-weight="normal" fill="#222" stroke="#222" stroke-width="0.1">log conc (M)</text>
<text x="140.90" y="296.00" font-size="6.6" text-anchor="middle" font-weight="normal" fill="#222" stroke="#222" stroke-width="0.1" transform="rotate(-90 140.90 296.00)">RSV positive cells [%]</text>
<path d="M155.20,287.19 L182.19,287.19 L182.89,287.19 L183.60,287.19 L184.31,287.19 L185.01,287.19 L185.72,287.19 L186.43,287.20 L187.13,287.20 L187.84,287.20 L188.55,287.20 L189.25,287.20 L189.96,287.21 L190.67,287.21 L191.37,287.21 L192.08,287.22 L192.79,287.22 L193.50,287.23 L194.20,287.23 L194.91,287.24 L195.62,287.24 L196.32,287.25 L197.03,287.26 L197.74,287.26 L198.44,287.27 L199.15,287.28 L199.86,287.29 L200.56,287.31 L201.27,287.32 L201.98,287.33 L202.68,287.35 L203.39,287.37 L204.10,287.39 L204.80,287.41 L205.51,287.43 L206.22,287.46 L206.93,287.48 L207.63,287.51 L208.34,287.55 L209.05,287.59 L209.75,287.63 L210.46,287.67 L211.17,287.72 L211.87,287.78 L212.58,287.84 L213.29,287.90 L213.99,287.98 L214.70,288.06 L215.41,288.14 L216.11,288.24 L216.82,288.35 L217.53,288.46 L218.23,288.59 L218.94,288.73 L219.65,288.88 L220.36,289.04 L221.06,289.23 L221.77,289.42 L222.48,289.64 L223.18,289.87 L223.89,290.13 L224.60,290.41 L225.30,290.71 L226.01,291.04 L226.72,291.40 L227.42,291.78 L228.13,292.19 L228.84,292.64 L229.54,293.12 L230.25,293.64 L230.96,294.19 L231.66,294.78 L232.37,295.41 L233.08,296.08 L233.79,296.79 L234.49,297.54 L235.20,298.32 L235.91,299.15 L236.61,300.01 L237.32,300.91 L238.03,301.84 L238.73,302.81 L239.44,303.80 L240.15,304.81 L240.85,305.85 L241.56,306.89 L242.27,307.95 L242.97,309.02 L243.68,310.09 L244.39,311.15 L245.09,312.20 L245.80,313.24" fill="none" stroke="#333" stroke-width="0.65"/>
<line x1="155.20" y1="275.80" x2="155.20" y2="286.80" stroke="#555" stroke-width="0.55" />
<line x1="153.70" y1="275.80" x2="156.70" y2="275.80" stroke="#555" stroke-width="0.55" />
<line x1="153.70" y1="286.80" x2="156.70" y2="286.80" stroke="#555" stroke-width="0.55" />
<circle cx="155.20" cy="281.60" r="1.45" fill="#000"/>
<line x1="194.00" y1="280.50" x2="194.00" y2="294.90" stroke="#555" stroke-width="0.55" />
<line x1="192.50" y1="280.50" x2="195.50" y2="280.50" stroke="#555" stroke-width="0.55" />
<line x1="192.50" y1="294.90" x2="195.50" y2="294.90" stroke="#555" stroke-width="0.55" />
<circle cx="194.00" cy="287.40" r="1.45" fill="#000"/>
<line x1="206.90" y1="289.50" x2="206.90" y2="295.50" stroke="#555" stroke-width="0.55" />
<line x1="205.40" y1="289.50" x2="208.40" y2="289.50" stroke="#555" stroke-width="0.55" />
<line x1="205.40" y1="295.50" x2="208.40" y2="295.50" stroke="#555" stroke-width="0.55" />
<circle cx="206.90" cy="292.50" r="1.45" fill="#000"/>
<line x1="220.00" y1="284.50" x2="220.00" y2="294.20" stroke="#555" stroke-width="0.55" />
<line x1="218.50" y1="284.50" x2="221.50" y2="284.50" stroke="#555" stroke-width="0.55" />
<line x1="218.50" y1="294.20" x2="221.50" y2="294.20" stroke="#555" stroke-width="0.55" />
<circle cx="220.00" cy="289.30" r="1.45" fill="#000"/>
<line x1="233.00" y1="291.40" x2="233.00" y2="300.50" stroke="#555" stroke-width="0.55" />
<line x1="231.50" y1="291.40" x2="234.50" y2="291.40" stroke="#555" stroke-width="0.55" />
<line x1="231.50" y1="300.50" x2="234.50" y2="300.50" stroke="#555" stroke-width="0.55" />
<circle cx="233.00" cy="296.50" r="1.45" fill="#000"/>
<circle cx="245.80" cy="313.00" r="1.45" fill="#000"/>
<text x="228.60" y="288.60" font-size="6.5" text-anchor="start" font-weight="normal" fill="#333" stroke="#333" stroke-width="0.1">3.350e-006</text>
<text x="263.60" y="258.40" font-size="7.8" text-anchor="start" font-weight="bold" fill="#000" stroke="#000" stroke-width="0.1">G</text>
<line x1="286.20" y1="263.50" x2="286.20" y2="332.60" stroke="#222" stroke-width="0.9" />
<line x1="286.20" y1="332.20" x2="389.40" y2="332.20" stroke="#222" stroke-width="0.9" />
<line x1="283.20" y1="332.20" x2="286.20" y2="332.20" stroke="#222" stroke-width="0.75" />
<text x="282.70" y="334.50" font-size="6.4" text-anchor="end" font-weight="normal" fill="#222" stroke="#222" stroke-width="0.1">0</text>
<line x1="283.20" y1="315.10" x2="286.20" y2="315.10" stroke="#222" stroke-width="0.75" />
<text x="282.70" y="317.40" font-size="6.4" text-anchor="end" font-weight="normal" fill="#222" stroke="#222" stroke-width="0.1">5</text>
<line x1="283.20" y1="298.00" x2="286.20" y2="298.00" stroke="#222" stroke-width="0.75" />
<text x="282.70" y="300.30" font-size="6.4" text-anchor="end" font-weight="normal" fill="#222" stroke="#222" stroke-width="0.1">10</text>
<line x1="283.20" y1="280.90" x2="286.20" y2="280.90" stroke="#222" stroke-width="0.75" />
<text x="282.70" y="283.20" font-size="6.4" text-anchor="end" font-weight="normal" fill="#222" stroke="#222" stroke-width="0.1">15</text>
<line x1="283.20" y1="263.80" x2="286.20" y2="263.80" stroke="#222" stroke-width="0.75" />
<text x="282.70" y="266.10" font-size="6.4" text-anchor="end" font-weight="normal" fill="#222" stroke="#222" stroke-width="0.1">20</text>
<line x1="286.20" y1="332.20" x2="286.20" y2="334.60" stroke="#222" stroke-width="0.7" />
<text x="286.20" y="342.10" font-size="6.4" text-anchor="middle" font-weight="normal" fill="#222" stroke="#222" stroke-width="0.1">0</text>
<line x1="312.00" y1="332.20" x2="312.00" y2="334.60" stroke="#222" stroke-width="0.7" />
<text x="312.00" y="342.10" font-size="6.4" text-anchor="middle" font-weight="normal" fill="#222" stroke="#222" stroke-width="0.1">-10</text>
<line x1="337.70" y1="332.20" x2="337.70" y2="334.60" stroke="#222" stroke-width="0.7" />
<text x="337.70" y="342.10" font-size="6.4" text-anchor="middle" font-weight="normal" fill="#222" stroke="#222" stroke-width="0.1">-8</text>
<line x1="363.40" y1="332.20" x2="363.40" y2="334.60" stroke="#222" stroke-width="0.7" />
<text x="363.40" y="342.10" font-size="6.4" text-anchor="middle" font-weight="normal" fill="#222" stroke="#222" stroke-width="0.1">-6</text>
<line x1="389.10" y1="332.20" x2="389.10" y2="334.60" stroke="#222" stroke-width="0.7" />
<text x="389.10" y="342.10" font-size="6.4" text-anchor="middle" font-weight="normal" fill="#222" stroke="#222" stroke-width="0.1">-4</text>
<text x="337.60" y="349.50" font-size="6.5" text-anchor="middle" font-weight="normal" fill="#222" stroke="#222" stroke-width="0.1">log conc (M)</text>
<text x="272.00" y="298.20" font-size="6.6" text-anchor="middle" font-weight="normal" fill="#222" stroke="#222" stroke-width="0.1" transform="rotate(-90 272.00 298.20)">RSV positive cells [%]</text>
<path d="M294.20,287.57 L301.72,287.57 L302.64,287.57 L303.56,287.57 L304.47,287.57 L305.39,287.57 L306.31,287.57 L307.23,287.57 L308.15,287.57 L309.06,287.57 L309.98,287.57 L310.90,287.57 L311.82,287.57 L312.74,287.57 L313.65,287.57 L314.57,287.57 L315.49,287.57 L316.41,287.57 L317.33,287.58 L318.25,287.58 L319.16,287.58 L320.08,287.58 L321.00,287.58 L321.92,287.58 L322.84,287.59 L323.75,287.59 L324.67,287.59 L325.59,287.60 L326.51,287.60 L327.43,287.61 L328.34,287.62 L329.26,287.63 L330.18,287.64 L331.10,287.65 L332.02,287.66 L332.93,287.68 L333.85,287.70 L334.77,287.72 L335.69,287.75 L336.61,287.78 L337.52,287.82 L338.44,287.87 L339.36,287.92 L340.28,287.99 L341.20,288.06 L342.11,288.15 L343.03,288.25 L343.95,288.37 L344.87,288.52 L345.79,288.68 L346.70,288.88 L347.62,289.11 L348.54,289.37 L349.46,289.68 L350.38,290.04 L351.30,290.46 L352.21,290.95 L353.13,291.50 L354.05,292.14 L354.97,292.86 L355.89,293.69 L356.80,294.62 L357.72,295.66 L358.64,296.81 L359.56,298.09 L360.48,299.47 L361.39,300.97 L362.31,302.57 L363.23,304.26 L364.15,306.01 L365.07,307.81 L365.98,309.64 L366.90,311.47 L367.82,313.27 L368.74,315.02 L369.66,316.70 L370.57,318.30 L371.49,319.79 L372.41,321.18 L373.33,322.45 L374.25,323.60 L375.16,324.63 L376.08,325.56 L377.00,326.38 L377.92,327.10 L378.84,327.74 L379.76,328.29 L380.67,328.77 L381.59,329.19 L382.51,329.55 L383.43,329.86 L384.35,330.12" fill="none" stroke="#333" stroke-width="0.65"/>
<line x1="294.30" y1="276.70" x2="294.30" y2="289.00" stroke="#555" stroke-width="0.55" />
<line x1="292.80" y1="276.70" x2="295.80" y2="276.70" stroke="#555" stroke-width="0.55" />
<line x1="292.80" y1="289.00" x2="295.80" y2="289.00" stroke="#555" stroke-width="0.55" />
<circle cx="294.30" cy="282.70" r="1.45" fill="#000"/>
<line x1="333.00" y1="281.40" x2="333.00" y2="293.00" stroke="#555" stroke-width="0.55" />
<line x1="331.50" y1="281.40" x2="334.50" y2="281.40" stroke="#555" stroke-width="0.55" />
<line x1="331.50" y1="293.00" x2="334.50" y2="293.00" stroke="#555" stroke-width="0.55" />
<circle cx="333.00" cy="287.00" r="1.45" fill="#000"/>
<line x1="345.70" y1="290.50" x2="345.70" y2="298.70" stroke="#555" stroke-width="0.55" />
<line x1="344.20" y1="290.50" x2="347.20" y2="290.50" stroke="#555" stroke-width="0.55" />
<line x1="344.20" y1="298.70" x2="347.20" y2="298.70" stroke="#555" stroke-width="0.55" />
<circle cx="345.70" cy="294.50" r="1.45" fill="#000"/>
<line x1="358.50" y1="293.00" x2="358.50" y2="301.50" stroke="#555" stroke-width="0.55" />
<line x1="357.00" y1="293.00" x2="360.00" y2="293.00" stroke="#555" stroke-width="0.55" />
<line x1="357.00" y1="301.50" x2="360.00" y2="301.50" stroke="#555" stroke-width="0.55" />
<circle cx="358.50" cy="297.00" r="1.45" fill="#000"/>
<circle cx="371.10" cy="317.10" r="1.45" fill="#000"/>
<circle cx="384.10" cy="330.60" r="1.45" fill="#000"/>
<text x="367.20" y="308.80" font-size="6.5" text-anchor="start" font-weight="normal" fill="#333" stroke="#333" stroke-width="0.1">1.705e-006</text>
</svg></body></html>
